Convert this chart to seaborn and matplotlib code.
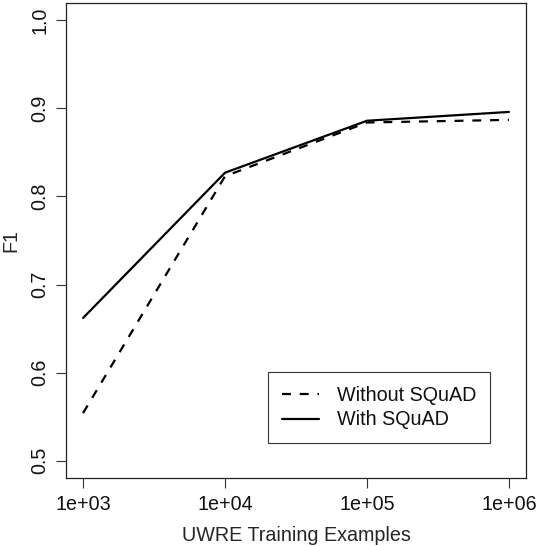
import pandas as pd
import seaborn as sns
import matplotlib.pyplot as plt
from matplotlib.ticker import FixedLocator, NullLocator

EXAMPLES = [1e3, 1e4, 1e5, 1e6]
TICK_LABELS = ['1e+03', '1e+04', '1e+05', '1e+06']
F1_WITHOUT = [0.554, 0.823, 0.884, 0.887]
F1_WITH = [0.662, 0.827, 0.886, 0.896]
SERIES = ['Without SQuAD', 'With SQuAD']
Y_TICKS = [0.5, 0.6, 0.7, 0.8, 0.9, 1.0]

FS = 14.2

sns.set_style('white')
plt.rcParams['font.family'] = ['Liberation Sans', 'DejaVu Sans']
plt.rcParams['text.color'] = '#111111'

rows = []
for x, a, b in zip(EXAMPLES, F1_WITHOUT, F1_WITH):
    rows.append({'examples': x, 'f1': a, 'setting': SERIES[0]})
    rows.append({'examples': x, 'f1': b, 'setting': SERIES[1]})
df = pd.DataFrame(rows)

fig = plt.figure(figsize=(5.38, 5.46), dpi=100)
ax = fig.add_axes([0.1227, 0.124, 0.855, 0.871])

sns.lineplot(data=df, x='examples', y='f1', style='setting', style_order=SERIES,
             dashes={SERIES[0]: (4, 4), SERIES[1]: ''}, color='black',
             linewidth=1.6, ax=ax)

ax.set_xscale('log')
ax.set_xlim(10 ** 2.88, 10 ** 6.12)
ax.set_ylim(0.48, 1.02)
ax.xaxis.set_major_locator(FixedLocator(EXAMPLES))
ax.xaxis.set_minor_locator(NullLocator())
ax.set_xticklabels(TICK_LABELS)
ax.set_yticks(Y_TICKS)
ax.set_yticklabels([f'{v:.1f}' for v in Y_TICKS], rotation=90, va='center')
ax.tick_params(axis='both', direction='out', length=7, width=0.8, color='#333333',
               labelsize=FS, labelcolor='#111111', pad=5, bottom=True, left=True)

for sp in ax.spines.values():
    sp.set_color('#222222')
    sp.set_linewidth(0.9)

ax.set_xlabel('UWRE Training Examples', fontsize=FS, labelpad=9)
ax.set_ylabel('F1', fontsize=FS, labelpad=7)

handles, labels = ax.get_legend_handles_labels()
leg = ax.legend(handles, labels, loc='lower right', bbox_to_anchor=(0.922, 0.0736),
                fontsize=FS, frameon=True, fancybox=False, handlelength=1.9,
                handletextpad=0.9, borderpad=0.7, labelspacing=0.3,
                borderaxespad=0)
leg.get_frame().set_edgecolor('black')
leg.get_frame().set_linewidth(0.8)

fig.savefig('out.png', dpi=100)
